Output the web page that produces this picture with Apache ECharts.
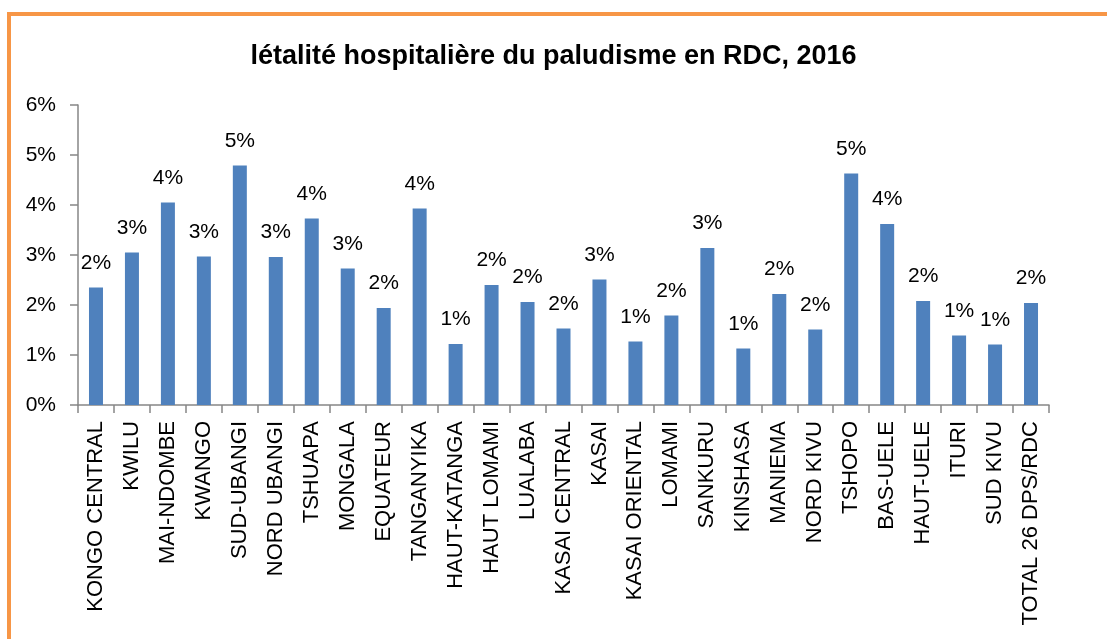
<!DOCTYPE html>
<html>
<head>
<meta charset="utf-8">
<script src="https://cdn.jsdelivr.net/npm/echarts@6/dist/echarts.min.js"></script>
<style>
  html, body { margin: 0; padding: 0; background: #fff; }
  #frame { position: absolute; left: 7px; top: 12px; width: 1200px; height: 700px;
           border-top: 4px solid #F79646; border-left: 4px solid #F79646; }
  #chart { position: absolute; left: 0; top: 0; width: 1107px; height: 639px; }
</style>
</head>
<body>
<div id="frame"></div>
<div id="chart"></div>
<script>
// --- DATA ---
const titleText = 'létalité hospitalière du paludisme en RDC, 2016';
const provinces = [
    'KONGO CENTRAL', 'KWILU', 'MAI-NDOMBE', 'KWANGO', 'SUD-UBANGI', 'NORD UBANGI',
    'TSHUAPA', 'MONGALA', 'EQUATEUR', 'TANGANYIKA', 'HAUT-KATANGA', 'HAUT LOMAMI',
    'LUALABA', 'KASAI CENTRAL', 'KASAI', 'KASAI ORIENTAL', 'LOMAMI', 'SANKURU',
    'KINSHASA', 'MANIEMA', 'NORD KIVU', 'TSHOPO', 'BAS-UELE', 'HAUT-UELE',
    'ITURI', 'SUD KIVU', 'TOTAL 26 DPS/RDC'
];
// case fatality rate, as a fraction
const letalite = [
    0.0235, 0.0305, 0.0405, 0.0297, 0.0479, 0.0296,
    0.0373, 0.0273, 0.0194, 0.0393, 0.0122, 0.0240,
    0.0206, 0.0153, 0.0251, 0.0127, 0.0179, 0.0314,
    0.0113, 0.0222, 0.0151, 0.0463, 0.0362, 0.0208,
    0.0139, 0.0121, 0.0204
];
const yTicks = [0, 0.01, 0.02, 0.03, 0.04, 0.05, 0.06];

const pct = v => Math.round(v * 100) + '%';
const font = '"Liberation Sans", Arial, sans-serif';
const axisGrey = '#868686';

const chart = echarts.init(document.getElementById('chart'), null, { renderer: 'canvas' });
chart.setOption({
    backgroundColor: 'transparent',
    animation: false,
    title: {
        text: titleText, left: 'center', top: 38,
        textStyle: { fontFamily: font, fontSize: 27, fontWeight: 'bold', color: '#000' }
    },
    grid: { left: 78, right: 58, top: 105, bottom: 234, containLabel: false, outerBoundsMode: 'none' },
    xAxis: {
        type: 'category', data: provinces,
        axisLine: { lineStyle: { color: axisGrey, width: 1.5 } },
        axisTick: { show: true, length: 8, lineStyle: { color: axisGrey, width: 1.5 } },
        axisLabel: { interval: 0, rotate: 90, margin: 16, color: '#000', fontFamily: font, fontSize: 22 }
    },
    yAxis: {
        type: 'value', min: yTicks[0], max: yTicks[yTicks.length - 1], interval: 0.01,
        splitLine: { show: false },
        axisLine: { show: true, lineStyle: { color: axisGrey, width: 1.5 } },
        axisTick: { show: true, length: 8, lineStyle: { color: axisGrey, width: 1.5 } },
        axisLabel: { margin: 22, color: '#000', fontFamily: font, fontSize: 21, formatter: pct }
    },
    series: [{
        type: 'bar', data: letalite, barWidth: 14,
        itemStyle: { color: '#4F81BD' },
        label: {
            show: true, position: 'top', distance: 14,
            color: '#000', fontFamily: font, fontSize: 21,
            formatter: p => pct(p.value)
        }
    }]
});
</script>
</body>
</html>
